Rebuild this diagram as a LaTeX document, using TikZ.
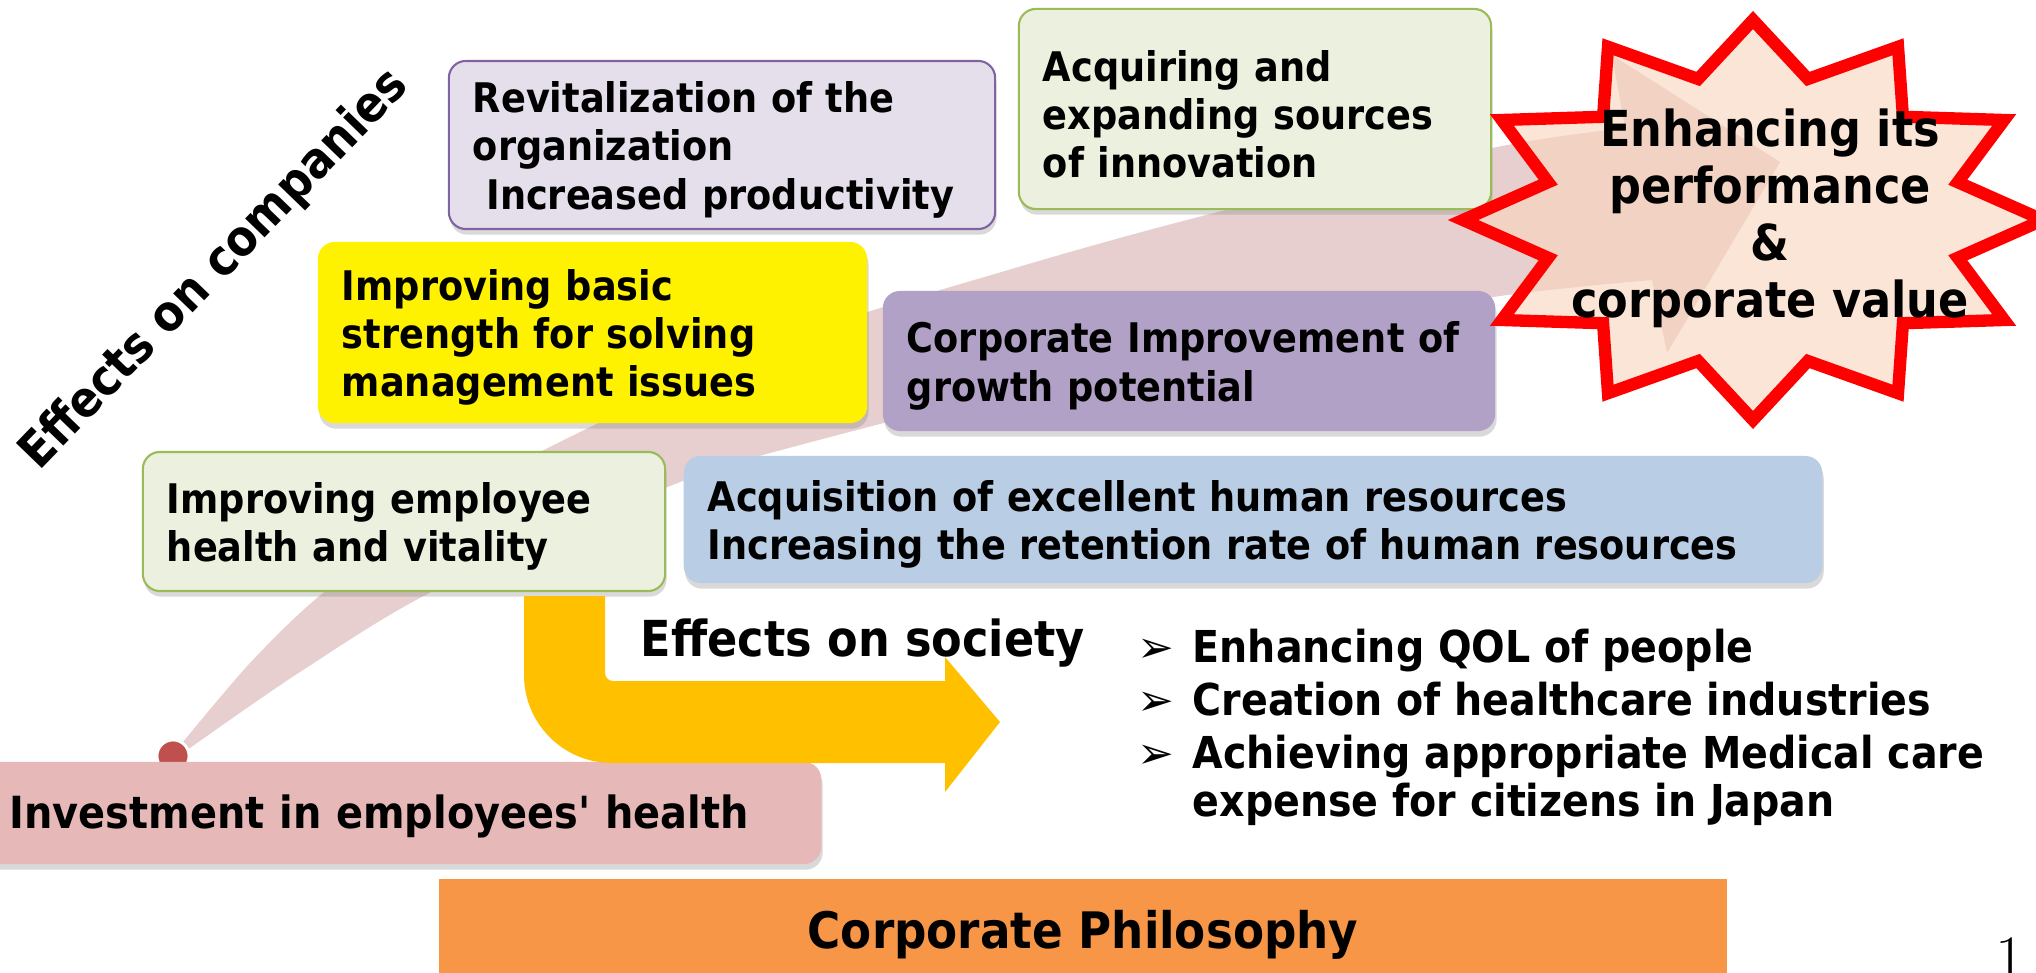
\documentclass[tikz,border=0pt]{standalone}
\usepackage{fontspec}
\newfontfamily\slidefont{DejaVu Sans Condensed}
\newfontfamily\dingfont{DejaVu Sans}
\usepackage{tikz}
\usetikzlibrary{shadows}

\definecolor{lilac}{HTML}{E5DFEC}
\definecolor{lilacline}{HTML}{8064A2}
\definecolor{sage}{HTML}{EBF1DE}
\definecolor{sageline}{HTML}{9BBB59}
\definecolor{mauve}{HTML}{B2A1C7}
\definecolor{skyblue}{HTML}{B9CDE5}
\definecolor{rose}{HTML}{E6B9B8}
\definecolor{tangerine}{HTML}{F79646}
\definecolor{amber}{HTML}{FFC000}
\definecolor{brick}{HTML}{C0504D}
\definecolor{bandpink}{HTML}{E7CFCF}
\definecolor{peach}{RGB}{248,212,187}

\newcommand{\cardfont}{\slidefont\bfseries\fontsize{11.6pt}{13.66pt}\selectfont}
\newcommand{\listfont}{\slidefont\bfseries\fontsize{12.5pt}{13.66pt}\selectfont}
\newcommand{\headfont}{\slidefont\bfseries\fontsize{14.1pt}{16pt}\selectfont}
\newcommand{\starfont}{\slidefont\bfseries\fontsize{14.1pt}{16.2pt}\selectfont}
\newcommand{\bul}{\makebox[.55cm][l]{\dingfont\fontsize{12.5pt}{12.5pt}\selectfont ➢}}
% taller first line, so the lines sit a bit low in their cards
\newcommand{\lift}{\rule{0pt}{11.6pt}}

\tikzset{card/.style={rectangle, rounded corners=.17cm, inner xsep=.24cm, inner ysep=0pt,
    align=left, font=\cardfont, execute at begin node=\lift,
    drop shadow={shadow xshift=.4pt, shadow yshift=-1.6pt, opacity=.3}}}
\tikzset{rim/.style={line width=.6pt}}
\tikzset{burst/.style={draw=red, line width=3.5pt, line join=miter, fill=peach, fill opacity=.6}}

\begin{document}
\begin{tikzpicture}[x=.01cm, y=-.01cm]
  \useasboundingbox (0,0) rectangle (2036,973);
  \clip (0,0) rectangle (2036,973);

  % --- wide arrow from the investment up to the value star ---
  \fill[bandpink] plot[smooth] coordinates {(178,748) (250,663) (323,593) (430,517) (540,452)
      (770,345) (1015,268) (1218,212) (1492,148) (1625,128)}
    -- (1612,55) -- (1780,162) -- (1667,353)
    -- plot[smooth] coordinates {(1652,280) (1493,297) (1200,345) (800,445) (665,488)
      (435,590) (300,672) (190,748)} -- cycle;
  \node[circle, fill=brick, draw=white, line width=.8pt, minimum size=.32cm, inner sep=0] (seed) at (173,756) {};

  % --- effects on companies ---
  \node[card, fill=lilac, draw=lilacline, rim, text width=4.98cm, minimum height=1.68cm] (revit) at (722,145)
    {Revitalization of the\\organization\\~Increased productivity};
  \node[card, fill=sage, draw=sageline, rim, execute at begin node={}, text width=4.24cm, minimum height=2cm] (innov) at (1255,109)
    {Acquiring and\\expanding sources\\of innovation};
  \node[card, fill=yellow, text width=5.01cm, minimum height=1.81cm] (basic) at (592.5,332.5)
    {Improving basic\\strength for solving\\management issues};
  \node[card, fill=mauve, text width=5.64cm, minimum height=1.4cm] (growth) at (1189,361)
    {Corporate Improvement of\\growth potential};
  \node[card, fill=sage, draw=sageline, rim, text width=4.74cm, minimum height=1.39cm] (vital) at (404,521.5)
    {Improving employee\\health and vitality};
  \node[card, fill=skyblue, text width=10.9cm, minimum height=1.27cm] (hr) at (1253,519.5)
    {Acquisition of excellent human resources\\Increasing the retention rate of human resources};
  \node[rotate=46, font=\headfont] (companies) at (215,270) {Effects on companies};

  % --- base ---
  \node[card, fill=rose, inner xsep=.4cm, text width=7.71cm, minimum height=1.02cm,
    font=\slidefont\bfseries\fontsize{12.6pt}{13.66pt}\selectfont] (invest) at (395.5,813)
    {Investment in employees' health};
  \node[fill=tangerine, minimum width=12.88cm, minimum height=1.11cm,
    font=\slidefont\bfseries\fontsize{14.3pt}{16pt}\selectfont] (philo) at (1083,934.5)
    {Corporate Philosophy};

  % --- effects on society ---
  \fill[amber] (524,596) -- (605,596) -- (605,673) .. controls (605,677.4) and (608.6,681) .. (613,681)
    -- (945,681) -- (945,657) -- (1000,722) -- (945,792) -- (945,763) -- (612,763)
    .. controls (563.4,763) and (524,723.6) .. (524,675) -- cycle;
  \node[anchor=base west, inner sep=0, font=\headfont] (society) at (640,656) {Effects on society};
  \node[anchor=west, inner sep=0, font=\listfont] (gains) at (1137,730)
    {\begin{tabular}{@{}l@{}l@{}}
      \bul & Enhancing QOL of people\\[1.3pt]
      \bul & Creation of healthcare industries\\[1.3pt]
      \bul & Achieving appropriate Medical care\\
           & expense for citizens in Japan
    \end{tabular}};

  % --- value star ---
  \begin{scope}[shift={(1753,220)}]
    \draw[burst] (0:290 and 200) \foreach \a in {0,30,...,330} {-- (\a:290 and 200) -- (\a+15:212 and 146)} -- cycle;
  \end{scope}
  \node[align=center, font=\starfont] (value) at (1770,218) {Enhancing its\\performance\\\&\\corporate value};

  \node[anchor=north, inner sep=0, font=\fontsize{18pt}{20pt}\selectfont] (pageno) at (2010,937) {1};
\end{tikzpicture}
\end{document}
